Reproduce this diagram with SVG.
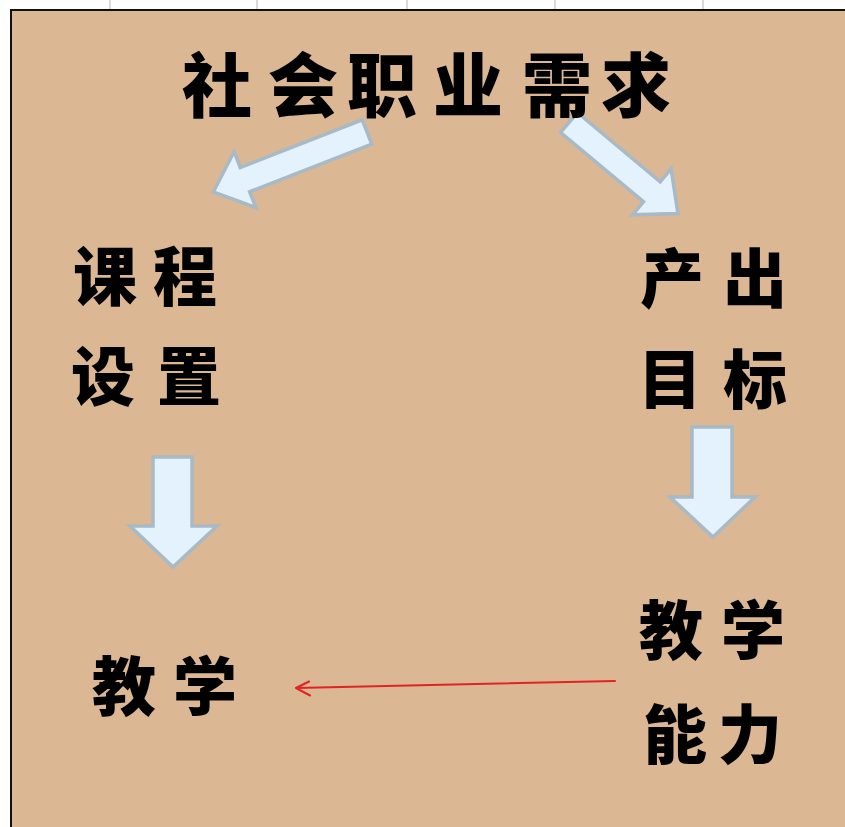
<svg xmlns="http://www.w3.org/2000/svg" width="845" height="827" viewBox="0 0 845 827">
<style>
.t{font-family:"Noto Sans CJK SC","Noto Sans CJK TC",sans-serif;font-weight:900;fill:#000;text-anchor:middle;dominant-baseline:central}
.big{font-size:70px}
.mid{font-size:64px}
.arr{fill:#E3F2FD;stroke:#A7BAC5;stroke-width:3.5;stroke-linejoin:miter}
.tick{stroke:#DADADA;stroke-width:2}
</style>
<rect width="845" height="827" fill="#FFFFFF"/>
<g id="ticks">
<line class="tick" x1="110" y1="0" x2="110" y2="9"/>
<line class="tick" x1="257" y1="0" x2="257" y2="9"/>
<line class="tick" x1="407" y1="0" x2="407" y2="9"/>
<line class="tick" x1="555" y1="0" x2="555" y2="9"/>
<line class="tick" x1="703" y1="0" x2="703" y2="9"/>
</g>
<rect id="panel" x="11" y="10" width="840" height="830" fill="#DBB794" stroke="#111" stroke-width="2"/>
<g id="connectors">
<path class="arr" transform="translate(367,132) rotate(158.7)" d="M0,-13 L131,-13 L131,-30 L165,0 L131,30 L131,13 L0,13 Z"/>
<path class="arr" transform="translate(569,122.5) rotate(39.9)" d="M0,-13 L108,-13 L108,-30 L142,0 L108,30 L108,13 L0,13 Z"/>
<path class="arr" d="M153,457 L192,457 L192,526 L217,526 L173,567 L130,526 L153,526 Z"/>
<path class="arr" d="M692,427 L732,427 L732,497 L755,497 L713,537 L670,497 L692,497 Z"/>
<path d="M615,681 L296,688 M309,681.5 L296,688 L310,695.5" fill="none" stroke="#E02424" stroke-width="2" stroke-linecap="round" stroke-linejoin="round"/>
</g>
<g id="node-demand">
<text class="t big" x="217" y="81">社</text>
<text class="t big" x="303" y="81">会</text>
<text class="t big" x="382" y="81">职</text>
<text class="t big" x="468" y="81">业</text>
<text class="t big" x="557" y="81">需</text>
<text class="t big" x="636" y="81">求</text>
</g>
<g id="node-curriculum">
<text class="t mid" x="105" y="272">课</text>
<text class="t mid" x="185" y="272">程</text>
<text class="t mid" x="103" y="372">设</text>
<text class="t mid" x="189" y="372">置</text>
</g>
<g id="node-output">
<text class="t mid" x="672" y="274">产</text>
<text class="t mid" x="755" y="274">出</text>
<text class="t mid" x="670" y="375">目</text>
<text class="t mid" x="755" y="375">标</text>
</g>
<g id="node-teaching">
<text class="t mid" x="124" y="682">教</text>
<text class="t mid" x="205" y="682">学</text>
</g>
<g id="node-ability">
<text class="t mid" x="671" y="626">教</text>
<text class="t mid" x="753" y="626">学</text>
<text class="t mid" x="675" y="730">能</text>
<text class="t mid" x="750" y="730">力</text>
</g>
</svg>
